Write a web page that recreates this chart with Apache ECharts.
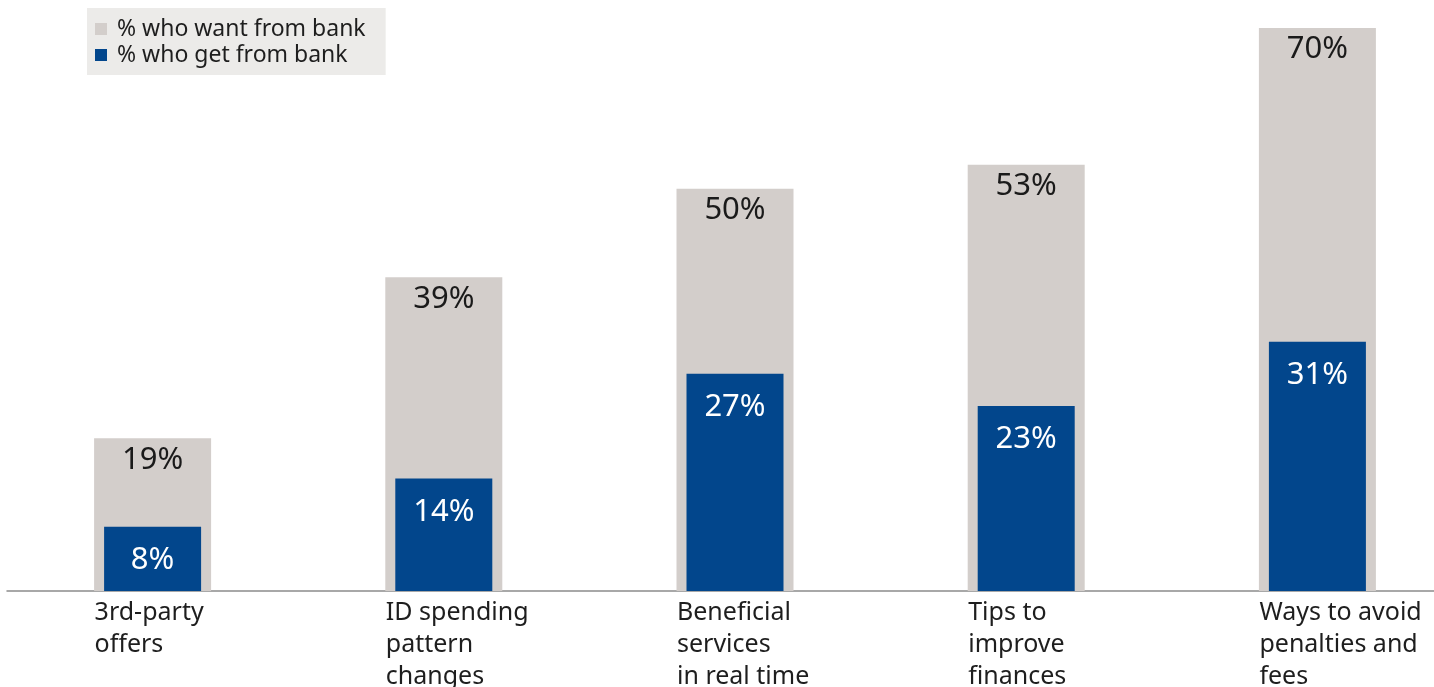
<!DOCTYPE html>
<html>
<head>
<meta charset="utf-8">
<script src="https://cdn.jsdelivr.net/npm/echarts@6/dist/echarts.min.js"></script>
<style>
html,body{margin:0;padding:0;background:#fff;}
#chart{width:1434px;height:687px;}
</style>
</head>
<body>
<div id="chart"></div>
<script>
var categories = ['3rd-party\noffers', 'ID spending\npattern\nchanges', 'Beneficial\nservices\nin real time', 'Tips to\nimprove\nfinances', 'Ways to avoid\npenalties and\nfees'];
var wantValues = [19, 39, 50, 53, 70];
var getValues = [8, 14, 27, 23, 31];
var seriesNames = ['% who want from bank', '% who get from bank'];

var FONT = '"Noto Sans", sans-serif';
var chart = echarts.init(document.getElementById('chart'));
chart.setOption({
  animation: false,
  textStyle: {fontFamily: FONT},
  legend: {
    orient: 'vertical',
    left: 87, top: 8,
    backgroundColor: '#ecebe9',
    padding: [9, 20, 8, 8],
    itemWidth: 12, itemHeight: 12, itemGap: 2,
    icon: 'rect',
    data: seriesNames,
    textStyle: {fontFamily: FONT, fontSize: 23, lineHeight: 24, color: '#1e1e1e', padding: [0, 0, 0, 5]}
  },
  grid: {left: 7, right: -29, top: 28, bottom: 96, containLabel: false, outerBoundsMode: 'none'},
  xAxis: [{
    type: 'category',
    data: categories,
    axisLine: {lineStyle: {color: '#8c8c8c', width: 1.5}},
    axisTick: {show: false},
    axisLabel: {
      align: 'left', margin: 6, fontFamily: FONT, fontSize: 25, lineHeight: 32,
      color: '#1e1e1e', padding: [0, 0, 0, -58], interval: 0
    }
  }, {
    type: 'category', data: categories, show: false
  }],
  yAxis: {type: 'value', min: 0, max: 70, show: false},
  series: [{
    name: seriesNames[0], type: 'bar', xAxisIndex: 0, data: wantValues,
    barWidth: 117, itemStyle: {color: '#d3cecb'},
    label: {show: true, position: 'insideTop', distance: 6, formatter: '{c}%', fontFamily: FONT, fontSize: 31, color: '#1a1a1a'}
  }, {
    name: seriesNames[1], type: 'bar', xAxisIndex: 1, data: getValues,
    barWidth: 97, itemStyle: {color: '#02468c'}, z: 3,
    label: {show: true, position: 'insideTop', distance: 18, formatter: '{c}%', fontFamily: FONT, fontSize: 31, color: '#ffffff'}
  }]
});
</script>
</body>
</html>
